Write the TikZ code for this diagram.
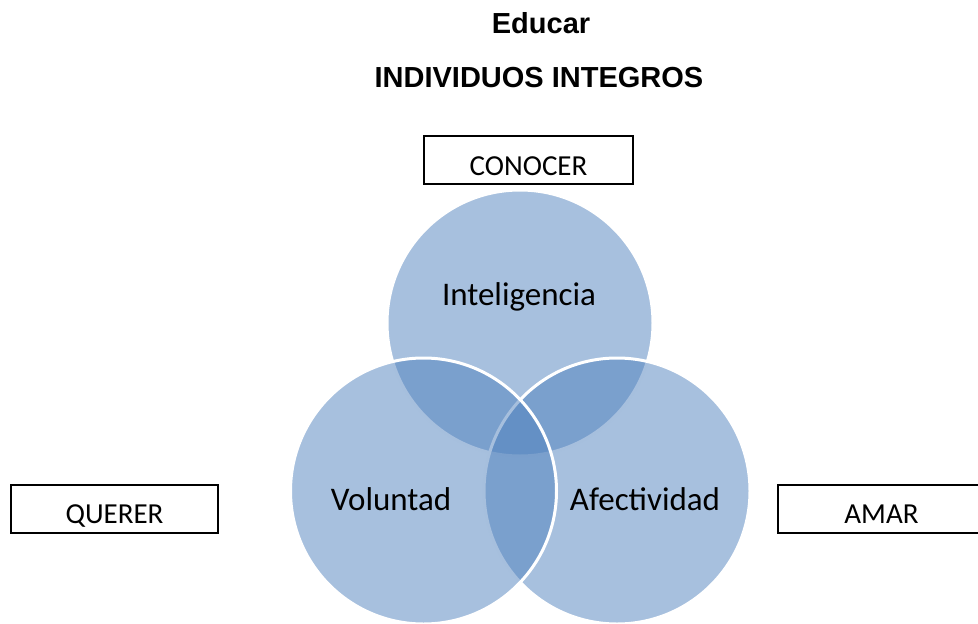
\documentclass[tikz,border=0pt]{standalone}
\usepackage{fontspec}
\setmainfont{Carlito}
\newfontfamily\titlefont{Liberation Sans}
\definecolor{venn}{HTML}{4F81BD}
\begin{document}
\begin{tikzpicture}[x=1pt,y=-1pt,
  venncirc/.style={circle, inner sep=0pt, minimum size=266pt, fill=venn, fill opacity=0.5, draw=white, draw opacity=1, line width=3pt},
  wordbox/.style={draw=black, line width=2pt, inner sep=0pt, text height=39pt, text depth=9pt, font=\fontsize{29}{30}\selectfont},
  circlabel/.style={anchor=base, inner sep=0pt, font=\fontsize{33}{36}\selectfont},
  titletext/.style={anchor=base, inner sep=0pt, font=\titlefont\bfseries\fontsize{29}{32}\selectfont}]
\useasboundingbox (0,0) rectangle (978,624);
% titles
\node[titletext] (t1) at (541,33) {Educar};
\node[titletext] (t2) at (539,87) {INDIVIDUOS INTEGROS};
% circles
\node[venncirc] (ctop) at (520,323) {};
\node[venncirc] (cright) at (617,491) {};
\node[venncirc] (cleft) at (423.5,491) {};
% circle labels
\node[circlabel] (lint) at (519,305) {Inteligencia};
\node[circlabel] (lvol) at (391,510) {Voluntad};
\node[circlabel] (lafe) at (645,510) {Afectividad};
% boxes
\node[wordbox, minimum width=209pt] (conocer) at (528.5,160) {CONOCER};
\node[wordbox, minimum width=207pt] (querer) at (114.5,508.5) {QUERER};
\node[wordbox, minimum width=207pt] (amar) at (881.5,508.5) {AMAR};
\end{tikzpicture}
\end{document}
